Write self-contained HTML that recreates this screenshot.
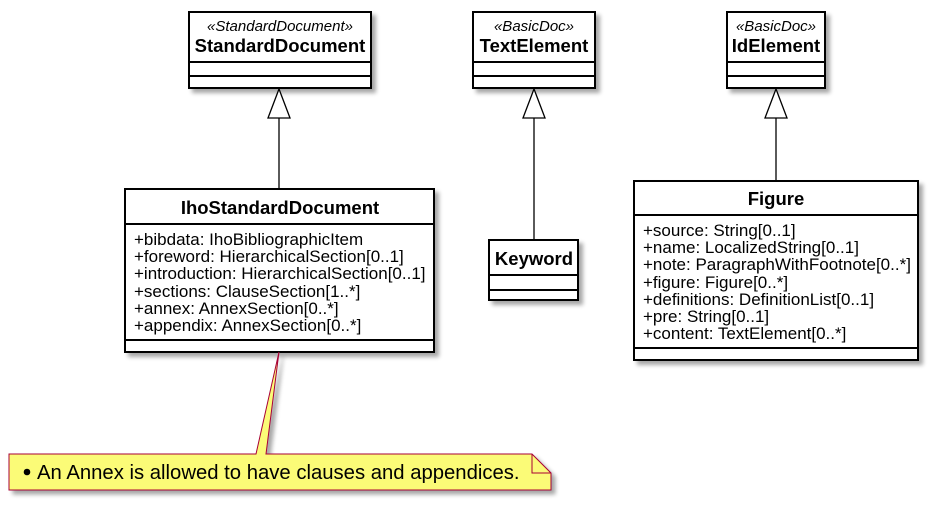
<!DOCTYPE html>
<html><head><meta charset="utf-8"><style>body{margin:0;background:#fff}</style></head><body>
<svg width="934" height="507" xmlns="http://www.w3.org/2000/svg" font-family="Liberation Sans, sans-serif">
<defs><filter id="sh" x="-10%" y="-10%" width="130%" height="130%"><feGaussianBlur in="SourceAlpha" stdDeviation="2"/><feOffset dx="4" dy="4"/><feComponentTransfer><feFuncA type="linear" slope="0.35"/></feComponentTransfer><feMerge><feMergeNode/><feMergeNode in="SourceGraphic"/></feMerge></filter></defs>
<g stroke="#000" stroke-width="2" fill="#fff" filter="url(#sh)">
<rect x="189" y="12" width="182" height="76"/>
<rect x="473" y="12" width="122" height="76"/>
<rect x="727" y="12" width="98" height="76"/>
<rect x="125" y="189" width="309" height="163"/>
<rect x="489" y="240" width="89" height="60"/>
<rect x="634" y="181" width="284" height="179"/>
<path d="M9,454 L256,454 L279,352 L266,454 L532,454 L551,473 L551,490 L9,490 Z" fill="#fbfb77" stroke="#a80036" stroke-width="1"/>
</g>
<g stroke="#000" stroke-width="2">
<line x1="189" y1="62" x2="371" y2="62"/><line x1="189" y1="76" x2="371" y2="76"/>
<line x1="473" y1="62" x2="595" y2="62"/><line x1="473" y1="76" x2="595" y2="76"/>
<line x1="727" y1="62" x2="825" y2="62"/><line x1="727" y1="76" x2="825" y2="76"/>
<line x1="125" y1="224" x2="434" y2="224"/><line x1="125" y1="340" x2="434" y2="340"/>
<line x1="489" y1="275" x2="578" y2="275"/><line x1="489" y1="290" x2="578" y2="290"/>
<line x1="634" y1="215" x2="918" y2="215"/><line x1="634" y1="348" x2="918" y2="348"/>
</g>
<g stroke="#000" stroke-width="1.3" fill="none">
<line x1="279" y1="118" x2="279" y2="189"/>
<line x1="534" y1="118" x2="534" y2="240"/>
<line x1="776" y1="118" x2="776" y2="181"/>
</g>
<g stroke="#000" stroke-width="1.3" fill="#fff">
<path d="M279,89 L268,118 L290,118 Z"/>
<path d="M534,89 L523,118 L545,118 Z"/>
<path d="M776,89 L765,118 L787,118 Z"/>
</g>
<path d="M532,454 L532,473 L551,473" fill="none" stroke="#a80036" stroke-width="1"/>
<g text-anchor="middle">
<text x="280" y="31" font-size="15" font-style="italic">«StandardDocument»</text>
<text x="280" y="52" font-size="18.5" font-weight="bold">StandardDocument</text>
<text x="534" y="31" font-size="15" font-style="italic">«BasicDoc»</text>
<text x="534" y="52" font-size="18.5" font-weight="bold">TextElement</text>
<text x="776" y="31" font-size="15" font-style="italic">«BasicDoc»</text>
<text x="776" y="52" font-size="18.5" font-weight="bold">IdElement</text>
<text x="280" y="214" font-size="18.5" font-weight="bold">IhoStandardDocument</text>
<text x="534" y="265" font-size="18.5" font-weight="bold">Keyword</text>
<text x="776" y="205" font-size="18.5" font-weight="bold">Figure</text>
</g>
<g font-size="17">
<text x="134" y="245">+bibdata: IhoBibliographicItem</text>
<text x="134" y="262">+foreword: HierarchicalSection[0..1]</text>
<text x="134" y="279">+introduction: HierarchicalSection[0..1]</text>
<text x="134" y="297">+sections: ClauseSection[1..*]</text>
<text x="134" y="314">+annex: AnnexSection[0..*]</text>
<text x="134" y="331">+appendix: AnnexSection[0..*]</text>
<text x="643" y="236">+source: String[0..1]</text>
<text x="643" y="253">+name: LocalizedString[0..1]</text>
<text x="643" y="270">+note: ParagraphWithFootnote[0..*]</text>
<text x="643" y="288">+figure: Figure[0..*]</text>
<text x="643" y="305">+definitions: DefinitionList[0..1]</text>
<text x="643" y="322">+pre: String[0..1]</text>
<text x="643" y="339">+content: TextElement[0..*]</text>
</g>
<circle cx="27" cy="472" r="3.3" fill="#000"/>
<text x="37" y="479" font-size="20.3">An Annex is allowed to have clauses and appendices.</text>
</svg>
</body></html>
